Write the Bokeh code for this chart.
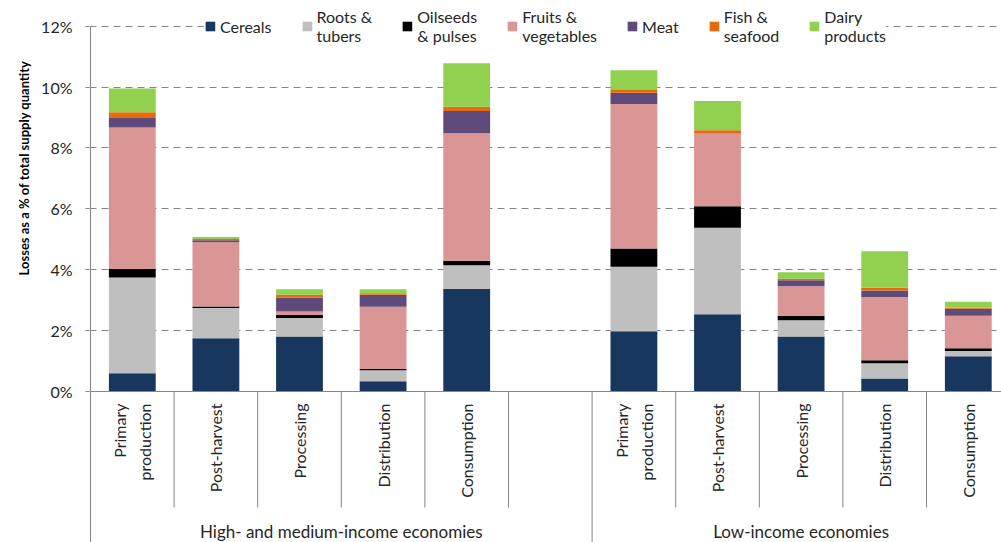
import math
from bokeh.plotting import figure
from bokeh.models import ColumnDataSource, FixedTicker, Legend, LegendItem, Title
from bokeh.core.properties import value
from bokeh.embed import file_html
from bokeh.resources import INLINE

# ---------------- data ----------------
stages = ["Primary\nproduction", "Post-harvest", "Processing", "Distribution", "Consumption"]
groups = ["High- and medium-income economies", "Low-income economies"]
series = ["Cereals", "Roots &\ntubers", "Oilseeds\n& pulses", "Fruits &\nvegetables",
          "Meat", "Fish &\nseafood", "Dairy\nproducts"]
colors = ["#17375E", "#BFBFBF", "#000000", "#D99694", "#604A7B", "#E46C0A", "#92D050"]

# first five values: high/medium-income, last five: low-income
cereals = [0.60, 1.75, 1.81, 0.34, 3.37, 1.98, 2.54, 1.81, 0.43, 1.16]
roots = [3.14, 0.99, 0.60, 0.36, 0.78, 2.12, 2.84, 0.53, 0.50, 0.17]
oilseeds = [0.28, 0.05, 0.10, 0.04, 0.14, 0.60, 0.70, 0.15, 0.10, 0.09]
fruits = [4.65, 2.11, 0.12, 2.04, 4.19, 4.74, 2.40, 0.97, 2.07, 1.07]
meat = [0.31, 0.07, 0.46, 0.40, 0.73, 0.37, 0.01, 0.19, 0.22, 0.23]
fish = [0.19, 0.04, 0.09, 0.05, 0.14, 0.09, 0.09, 0.05, 0.09, 0.03]
dairy = [0.78, 0.06, 0.18, 0.13, 1.43, 0.65, 0.96, 0.22, 1.20, 0.20]

y_ticks = [0, 2, 4, 6, 8, 10, 12]
y_tick_labels = ["0%", "2%", "4%", "6%", "8%", "10%", "12%"]
y_title = "Losses as a % of total supply quantity"

# ---------------- layout ----------------
FONT = "Lato"
TXT = "#262626"
AX = "#868686"
W, H = 1001, 542
SLOT_PX = 83.6
PX_PER_PCT = 30.45
ZERO_Y = 391          # canvas y of the 0% line
LEFT = 89             # canvas x of frame left

n_st = len(stages)
slots_per_group = n_st + 1
n_slots = len(groups) * slots_per_group - 1
x_pos = [g * slots_per_group + i for g in range(len(groups)) for i in range(n_st)]

x_start = -0.5 - 1.0 / SLOT_PX
x_end = x_start + (W - LEFT) / SLOT_PX
y_end = ZERO_Y / PX_PER_PCT
y_start = -(H - ZERO_Y) / PX_PER_PCT

keys = ["cereals", "roots", "oilseeds", "fruits", "meat", "fish", "dairy"]
src = ColumnDataSource(dict(x=x_pos, cereals=cereals, roots=roots, oilseeds=oilseeds,
                            fruits=fruits, meat=meat, fish=fish, dairy=dairy))

p = figure(width=W, height=H, x_range=(x_start, x_end), y_range=(y_start, y_end),
           output_backend="svg", toolbar_location=None, x_axis_location=None,
           min_border_left=LEFT, min_border_right=0, min_border_top=0, min_border_bottom=0)
p.outline_line_color = None
p.background_fill_color = "white"

bars = p.vbar_stack(keys, x="x", width=0.56, source=src, color=colors, line_color=None)

# y axis
ya = p.yaxis[0]
ya.ticker = FixedTicker(ticks=y_ticks)
ya.major_label_overrides = {t: l for t, l in zip(y_ticks, y_tick_labels)}
ya.axis_line_color = None
ya.major_tick_out = 4
ya.major_tick_in = 0
ya.major_tick_line_color = AX
ya.minor_tick_line_color = None
ya.major_label_text_font = FONT
ya.major_label_text_font_size = "16px"
ya.major_label_text_color = TXT
ya.major_label_standoff = 13

p.xgrid.visible = False
p.ygrid.grid_line_color = AX
p.ygrid.grid_line_dash = "7 5"
p.ygrid.grid_line_width = 1

# axis lines and category separators
top_val = y_ticks[-1]
sep_depth = -(507 - ZERO_Y) / PX_PER_PCT
p.segment(x0=[-0.5], y0=[top_val], x1=[-0.5], y1=[y_start], line_color=AX, line_width=1)
p.segment(x0=[-0.5], y0=[0], x1=[x_end], y1=[0], line_color=AX, line_width=1)
inner = [g * slots_per_group + i + 0.5 for g in range(len(groups)) for i in range(slots_per_group - 1)
         if g * slots_per_group + i + 0.5 < n_slots - 0.5]
p.segment(x0=inner, y0=[0] * len(inner), x1=inner, y1=[sep_depth] * len(inner),
          line_color=AX, line_width=1)
gb = [g * slots_per_group - 0.5 for g in range(1, len(groups) + 1)]
p.segment(x0=gb, y0=[0] * len(gb), x1=gb, y1=[y_start] * len(gb), line_color=AX, line_width=1)

# stage labels (rotated)
p.text(x=x_pos, y=[-(403 - ZERO_Y) / PX_PER_PCT] * len(x_pos), text=stages * len(groups),
       angle=math.pi / 2, text_align="right", text_baseline="middle", text_font=value(FONT),
       text_font_size="16px", text_color=TXT, text_line_height=1.3)

# group labels
gx = [(g * slots_per_group - 0.5 + min((g + 1) * slots_per_group - 0.5, n_slots - 0.5)) / 2
      for g in range(len(groups))]
p.text(x=gx, y=[-(531 - ZERO_Y) / PX_PER_PCT] * len(gx), text=groups, text_align="center",
       text_baseline="middle", text_font=value(FONT), text_font_size="17px", text_color=TXT)

# y title (top-aligned, shifted down)
p.add_layout(Title(text=y_title, align="right", offset=60, standoff=14,
                   text_font=FONT, text_font_size="13px", text_font_style="bold",
                   text_color="#000000"), "left")

# legend
legend = Legend(items=[LegendItem(label=s, renderers=[r]) for s, r in zip(series, bars)],
                location="top_center", orientation="horizontal", margin=7, padding=2,
                spacing=29, glyph_width=12, glyph_height=12, label_standoff=4,
                label_text_font=FONT, label_text_font_size="16px", label_text_color=TXT,
                label_text_line_height=1.65,
                border_line_color=None, background_fill_color="white", background_fill_alpha=1)
p.add_layout(legend)

open("out.html", "w").write(file_html(p, INLINE))
